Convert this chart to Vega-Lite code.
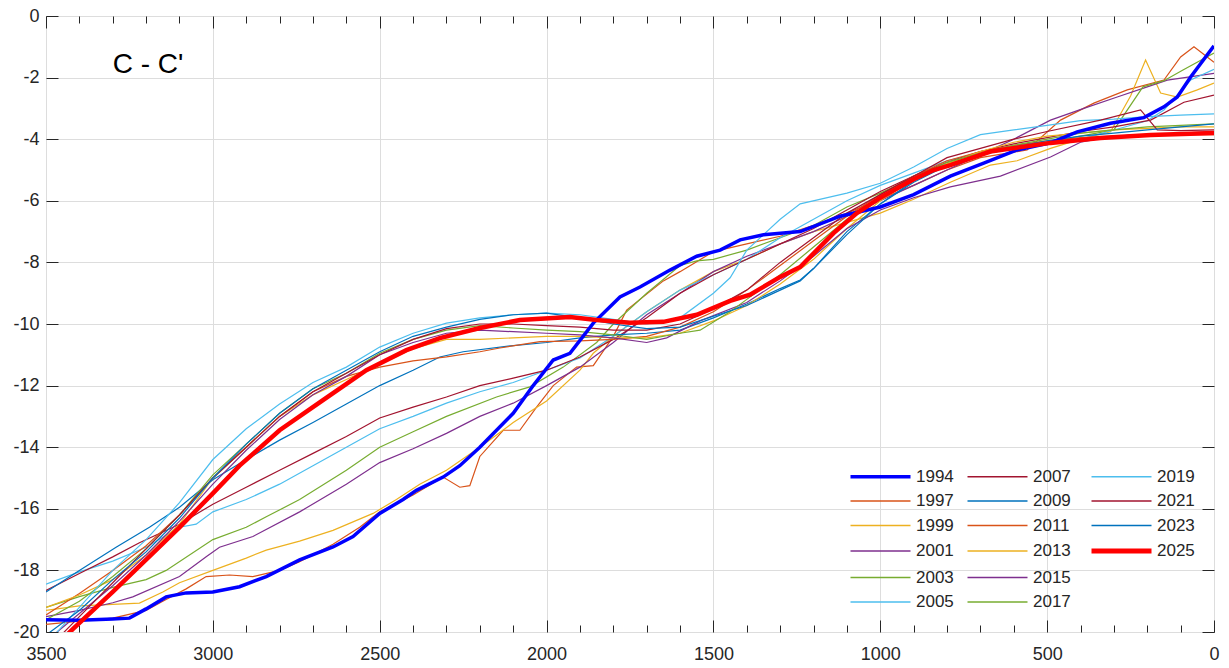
{
"$schema": "https://vega.github.io/schema/vega-lite/v6.json",
"width": 1168, "height": 616,
"autosize": {"type": "none"},
"padding": {"left": 46, "top": 16, "right": 15, "bottom": 36},
"background": "white",
"config": {
  "view": {"stroke": "#262626", "strokeWidth": 1},
  "axis": {"labelFont": "Liberation Sans", "labelFontSize": 18, "labelColor": "#262626", "tickColor": "#262626", "tickWidth": 1, "domain": false, "title": null}
},
"datasets": {
"lines": [
{"s":"1994","d":3500,"v":-19.6},{"s":"1994","d":3400,"v":-19.62},{"s":"1994","d":3300,"v":-19.58},{"s":"1994","d":3250,"v":-19.55},{"s":"1994","d":3200,"v":-19.25},{"s":"1994","d":3140,"v":-18.86},{"s":"1994","d":3080,"v":-18.73},{"s":"1994","d":3000,"v":-18.7},{"s":"1994","d":2920,"v":-18.53},{"s":"1994","d":2840,"v":-18.2},{"s":"1994","d":2740,"v":-17.66},{"s":"1994","d":2640,"v":-17.24},{"s":"1994","d":2580,"v":-16.9},{"s":"1994","d":2500,"v":-16.15},{"s":"1994","d":2430,"v":-15.7},{"s":"1994","d":2390,"v":-15.4},{"s":"1994","d":2310,"v":-14.97},{"s":"1994","d":2260,"v":-14.6},{"s":"1994","d":2200,"v":-14.0},{"s":"1994","d":2100,"v":-12.9},{"s":"1994","d":2040,"v":-12.0},{"s":"1994","d":1980,"v":-11.17},{"s":"1994","d":1930,"v":-10.95},{"s":"1994","d":1860,"v":-9.97},{"s":"1994","d":1780,"v":-9.12},{"s":"1994","d":1720,"v":-8.8},{"s":"1994","d":1630,"v":-8.25},{"s":"1994","d":1550,"v":-7.8},{"s":"1994","d":1480,"v":-7.6},{"s":"1994","d":1420,"v":-7.27},{"s":"1994","d":1350,"v":-7.1},{"s":"1994","d":1240,"v":-7.0},{"s":"1994","d":1120,"v":-6.5},{"s":"1994","d":1000,"v":-6.2},{"s":"1994","d":900,"v":-5.8},{"s":"1994","d":790,"v":-5.2},{"s":"1994","d":690,"v":-4.78},{"s":"1994","d":590,"v":-4.35},{"s":"1994","d":490,"v":-4.12},{"s":"1994","d":410,"v":-3.76},{"s":"1994","d":310,"v":-3.48},{"s":"1994","d":210,"v":-3.3},{"s":"1994","d":150,"v":-2.95},{"s":"1994","d":110,"v":-2.63},{"s":"1994","d":70,"v":-1.98},{"s":"1994","d":0,"v":-0.97},
{"s":"1997","d":3500,"v":-19.75},{"s":"1997","d":3400,"v":-19.65},{"s":"1997","d":3300,"v":-19.55},{"s":"1997","d":3200,"v":-19.3},{"s":"1997","d":3150,"v":-19.0},{"s":"1997","d":3080,"v":-18.6},{"s":"1997","d":3020,"v":-18.2},{"s":"1997","d":2950,"v":-18.15},{"s":"1997","d":2880,"v":-18.2},{"s":"1997","d":2800,"v":-18.0},{"s":"1997","d":2740,"v":-17.72},{"s":"1997","d":2640,"v":-17.15},{"s":"1997","d":2560,"v":-16.6},{"s":"1997","d":2500,"v":-16.1},{"s":"1997","d":2400,"v":-15.55},{"s":"1997","d":2310,"v":-14.97},{"s":"1997","d":2260,"v":-15.3},{"s":"1997","d":2230,"v":-15.25},{"s":"1997","d":2200,"v":-14.3},{"s":"1997","d":2130,"v":-13.45},{"s":"1997","d":2080,"v":-13.45},{"s":"1997","d":2030,"v":-12.7},{"s":"1997","d":1980,"v":-12.0},{"s":"1997","d":1910,"v":-11.4},{"s":"1997","d":1860,"v":-11.35},{"s":"1997","d":1800,"v":-10.4},{"s":"1997","d":1760,"v":-9.55},{"s":"1997","d":1720,"v":-9.2},{"s":"1997","d":1650,"v":-8.6},{"s":"1997","d":1600,"v":-8.3},{"s":"1997","d":1500,"v":-7.65},{"s":"1997","d":1400,"v":-7.4},{"s":"1997","d":1300,"v":-7.15},{"s":"1997","d":1200,"v":-6.8},{"s":"1997","d":1100,"v":-6.4},{"s":"1997","d":1000,"v":-5.95},{"s":"1997","d":900,"v":-5.5},{"s":"1997","d":800,"v":-5.0},{"s":"1997","d":700,"v":-4.6},{"s":"1997","d":560,"v":-4.35},{"s":"1997","d":460,"v":-3.38},{"s":"1997","d":360,"v":-2.83},{"s":"1997","d":260,"v":-2.4},{"s":"1997","d":150,"v":-2.08},{"s":"1997","d":100,"v":-1.33},{"s":"1997","d":60,"v":-1.0},{"s":"1997","d":0,"v":-1.5},
{"s":"1999","d":3500,"v":-19.3},{"s":"1999","d":3400,"v":-19.15},{"s":"1999","d":3300,"v":-19.1},{"s":"1999","d":3220,"v":-19.06},{"s":"1999","d":3150,"v":-18.7},{"s":"1999","d":3100,"v":-18.4},{"s":"1999","d":3000,"v":-18.0},{"s":"1999","d":2900,"v":-17.6},{"s":"1999","d":2840,"v":-17.34},{"s":"1999","d":2740,"v":-17.05},{"s":"1999","d":2640,"v":-16.7},{"s":"1999","d":2520,"v":-16.15},{"s":"1999","d":2450,"v":-15.7},{"s":"1999","d":2380,"v":-15.2},{"s":"1999","d":2300,"v":-14.75},{"s":"1999","d":2200,"v":-14.0},{"s":"1999","d":2100,"v":-13.2},{"s":"1999","d":2000,"v":-12.5},{"s":"1999","d":1900,"v":-11.5},{"s":"1999","d":1860,"v":-10.95},{"s":"1999","d":1800,"v":-10.4},{"s":"1999","d":1700,"v":-9.6},{"s":"1999","d":1600,"v":-8.9},{"s":"1999","d":1500,"v":-8.3},{"s":"1999","d":1400,"v":-7.9},{"s":"1999","d":1300,"v":-7.4},{"s":"1999","d":1200,"v":-7.0},{"s":"1999","d":1100,"v":-6.7},{"s":"1999","d":1000,"v":-6.4},{"s":"1999","d":900,"v":-5.95},{"s":"1999","d":790,"v":-5.4},{"s":"1999","d":670,"v":-4.84},{"s":"1999","d":590,"v":-4.7},{"s":"1999","d":490,"v":-4.3},{"s":"1999","d":400,"v":-4.0},{"s":"1999","d":310,"v":-3.76},{"s":"1999","d":250,"v":-2.6},{"s":"1999","d":205,"v":-1.43},{"s":"1999","d":160,"v":-2.5},{"s":"1999","d":110,"v":-2.63},{"s":"1999","d":50,"v":-2.4},{"s":"1999","d":0,"v":-2.18},
{"s":"2001","d":3500,"v":-19.5},{"s":"2001","d":3400,"v":-19.3},{"s":"2001","d":3300,"v":-19.05},{"s":"2001","d":3240,"v":-18.86},{"s":"2001","d":3100,"v":-18.2},{"s":"2001","d":3020,"v":-17.56},{"s":"2001","d":2980,"v":-17.25},{"s":"2001","d":2880,"v":-16.9},{"s":"2001","d":2740,"v":-16.1},{"s":"2001","d":2600,"v":-15.2},{"s":"2001","d":2500,"v":-14.5},{"s":"2001","d":2400,"v":-14.05},{"s":"2001","d":2300,"v":-13.55},{"s":"2001","d":2200,"v":-13.0},{"s":"2001","d":2100,"v":-12.57},{"s":"2001","d":2000,"v":-12.0},{"s":"2001","d":1900,"v":-11.4},{"s":"2001","d":1800,"v":-10.6},{"s":"2001","d":1700,"v":-9.7},{"s":"2001","d":1600,"v":-9.0},{"s":"2001","d":1500,"v":-8.3},{"s":"2001","d":1400,"v":-7.8},{"s":"2001","d":1300,"v":-7.4},{"s":"2001","d":1200,"v":-7.0},{"s":"2001","d":1100,"v":-6.5},{"s":"2001","d":1000,"v":-6.0},{"s":"2001","d":900,"v":-5.5},{"s":"2001","d":800,"v":-5.0},{"s":"2001","d":700,"v":-4.5},{"s":"2001","d":600,"v":-4.0},{"s":"2001","d":490,"v":-3.38},{"s":"2001","d":390,"v":-3.0},{"s":"2001","d":290,"v":-2.63},{"s":"2001","d":200,"v":-2.3},{"s":"2001","d":140,"v":-2.08},{"s":"2001","d":0,"v":-1.86},
{"s":"2003","d":3500,"v":-19.2},{"s":"2003","d":3400,"v":-18.85},{"s":"2003","d":3300,"v":-18.55},{"s":"2003","d":3200,"v":-18.3},{"s":"2003","d":3140,"v":-18.0},{"s":"2003","d":3000,"v":-17.0},{"s":"2003","d":2900,"v":-16.6},{"s":"2003","d":2840,"v":-16.26},{"s":"2003","d":2740,"v":-15.7},{"s":"2003","d":2600,"v":-14.75},{"s":"2003","d":2500,"v":-14.0},{"s":"2003","d":2400,"v":-13.5},{"s":"2003","d":2300,"v":-13.0},{"s":"2003","d":2150,"v":-12.37},{"s":"2003","d":2050,"v":-12.04},{"s":"2003","d":1950,"v":-11.4},{"s":"2003","d":1850,"v":-10.6},{"s":"2003","d":1800,"v":-10.0},{"s":"2003","d":1700,"v":-9.0},{"s":"2003","d":1600,"v":-8.1},{"s":"2003","d":1550,"v":-7.95},{"s":"2003","d":1500,"v":-7.9},{"s":"2003","d":1400,"v":-7.6},{"s":"2003","d":1300,"v":-7.2},{"s":"2003","d":1200,"v":-6.8},{"s":"2003","d":1100,"v":-6.2},{"s":"2003","d":1000,"v":-5.75},{"s":"2003","d":900,"v":-5.25},{"s":"2003","d":800,"v":-4.8},{"s":"2003","d":700,"v":-4.5},{"s":"2003","d":600,"v":-4.3},{"s":"2003","d":500,"v":-4.1},{"s":"2003","d":400,"v":-3.9},{"s":"2003","d":300,"v":-3.7},{"s":"2003","d":213,"v":-2.3},{"s":"2003","d":150,"v":-2.1},{"s":"2003","d":93,"v":-1.75},{"s":"2003","d":0,"v":-1.2},
{"s":"2005","d":3500,"v":-18.45},{"s":"2005","d":3400,"v":-18.05},{"s":"2005","d":3300,"v":-17.7},{"s":"2005","d":3200,"v":-17.25},{"s":"2005","d":3100,"v":-16.6},{"s":"2005","d":3050,"v":-16.5},{"s":"2005","d":3000,"v":-16.1},{"s":"2005","d":2900,"v":-15.7},{"s":"2005","d":2800,"v":-15.2},{"s":"2005","d":2700,"v":-14.6},{"s":"2005","d":2600,"v":-14.0},{"s":"2005","d":2500,"v":-13.4},{"s":"2005","d":2400,"v":-13.0},{"s":"2005","d":2300,"v":-12.57},{"s":"2005","d":2200,"v":-12.2},{"s":"2005","d":2100,"v":-11.9},{"s":"2005","d":2000,"v":-11.5},{"s":"2005","d":1900,"v":-11.1},{"s":"2005","d":1800,"v":-10.4},{"s":"2005","d":1700,"v":-9.6},{"s":"2005","d":1600,"v":-8.9},{"s":"2005","d":1500,"v":-8.4},{"s":"2005","d":1400,"v":-7.9},{"s":"2005","d":1300,"v":-7.2},{"s":"2005","d":1200,"v":-6.6},{"s":"2005","d":1100,"v":-6.0},{"s":"2005","d":1000,"v":-5.5},{"s":"2005","d":900,"v":-5.1},{"s":"2005","d":800,"v":-4.7},{"s":"2005","d":700,"v":-4.45},{"s":"2005","d":600,"v":-4.25},{"s":"2005","d":500,"v":-4.1},{"s":"2005","d":400,"v":-4.0},{"s":"2005","d":300,"v":-3.7},{"s":"2005","d":200,"v":-3.4},{"s":"2005","d":150,"v":-3.05},{"s":"2005","d":70,"v":-2.08},{"s":"2005","d":0,"v":-1.73},
{"s":"2007","d":3500,"v":-18.65},{"s":"2007","d":3400,"v":-18.1},{"s":"2007","d":3300,"v":-17.56},{"s":"2007","d":3220,"v":-17.1},{"s":"2007","d":3100,"v":-16.5},{"s":"2007","d":3000,"v":-15.85},{"s":"2007","d":2900,"v":-15.3},{"s":"2007","d":2800,"v":-14.75},{"s":"2007","d":2700,"v":-14.2},{"s":"2007","d":2600,"v":-13.65},{"s":"2007","d":2500,"v":-13.05},{"s":"2007","d":2400,"v":-12.7},{"s":"2007","d":2300,"v":-12.37},{"s":"2007","d":2200,"v":-12.0},{"s":"2007","d":2100,"v":-11.76},{"s":"2007","d":2000,"v":-11.5},{"s":"2007","d":1900,"v":-11.07},{"s":"2007","d":1800,"v":-10.5},{"s":"2007","d":1700,"v":-9.8},{"s":"2007","d":1600,"v":-9.0},{"s":"2007","d":1500,"v":-8.4},{"s":"2007","d":1400,"v":-7.9},{"s":"2007","d":1300,"v":-7.4},{"s":"2007","d":1200,"v":-6.9},{"s":"2007","d":1100,"v":-6.3},{"s":"2007","d":1000,"v":-5.7},{"s":"2007","d":900,"v":-5.2},{"s":"2007","d":800,"v":-4.75},{"s":"2007","d":700,"v":-4.4},{"s":"2007","d":600,"v":-4.15},{"s":"2007","d":500,"v":-3.95},{"s":"2007","d":400,"v":-3.75},{"s":"2007","d":300,"v":-3.6},{"s":"2007","d":190,"v":-3.38},{"s":"2007","d":90,"v":-2.8},{"s":"2007","d":0,"v":-2.57},
{"s":"2009","d":3500,"v":-18.7},{"s":"2009","d":3400,"v":-18.0},{"s":"2009","d":3290,"v":-17.25},{"s":"2009","d":3190,"v":-16.6},{"s":"2009","d":3100,"v":-15.95},{"s":"2009","d":3000,"v":-15.06},{"s":"2009","d":2900,"v":-14.4},{"s":"2009","d":2800,"v":-13.77},{"s":"2009","d":2700,"v":-13.2},{"s":"2009","d":2600,"v":-12.6},{"s":"2009","d":2500,"v":-12.0},{"s":"2009","d":2400,"v":-11.5},{"s":"2009","d":2320,"v":-11.07},{"s":"2009","d":2250,"v":-10.9},{"s":"2009","d":2100,"v":-10.7},{"s":"2009","d":2000,"v":-10.6},{"s":"2009","d":1900,"v":-10.45},{"s":"2009","d":1800,"v":-10.35},{"s":"2009","d":1700,"v":-10.3},{"s":"2009","d":1600,"v":-10.2},{"s":"2009","d":1500,"v":-9.8},{"s":"2009","d":1400,"v":-9.35},{"s":"2009","d":1300,"v":-8.85},{"s":"2009","d":1240,"v":-8.57},{"s":"2009","d":1200,"v":-8.2},{"s":"2009","d":1100,"v":-7.0},{"s":"2009","d":1000,"v":-6.1},{"s":"2009","d":900,"v":-5.35},{"s":"2009","d":800,"v":-4.85},{"s":"2009","d":700,"v":-4.5},{"s":"2009","d":600,"v":-4.3},{"s":"2009","d":500,"v":-4.1},{"s":"2009","d":400,"v":-4.0},{"s":"2009","d":300,"v":-3.9},{"s":"2009","d":200,"v":-3.85},{"s":"2009","d":100,"v":-3.8},{"s":"2009","d":0,"v":-3.75},
{"s":"2011","d":3500,"v":-19.45},{"s":"2011","d":3400,"v":-18.75},{"s":"2011","d":3300,"v":-18.0},{"s":"2011","d":3200,"v":-17.2},{"s":"2011","d":3100,"v":-16.2},{"s":"2011","d":3000,"v":-15.0},{"s":"2011","d":2900,"v":-14.0},{"s":"2011","d":2800,"v":-13.0},{"s":"2011","d":2700,"v":-12.2},{"s":"2011","d":2600,"v":-11.7},{"s":"2011","d":2500,"v":-11.4},{"s":"2011","d":2400,"v":-11.2},{"s":"2011","d":2300,"v":-11.07},{"s":"2011","d":2200,"v":-10.9},{"s":"2011","d":2140,"v":-10.78},{"s":"2011","d":2020,"v":-10.57},{"s":"2011","d":1900,"v":-10.55},{"s":"2011","d":1800,"v":-10.5},{"s":"2011","d":1700,"v":-10.4},{"s":"2011","d":1600,"v":-10.1},{"s":"2011","d":1500,"v":-9.6},{"s":"2011","d":1400,"v":-8.9},{"s":"2011","d":1300,"v":-8.1},{"s":"2011","d":1200,"v":-7.3},{"s":"2011","d":1100,"v":-6.5},{"s":"2011","d":1000,"v":-5.8},{"s":"2011","d":900,"v":-5.2},{"s":"2011","d":800,"v":-4.7},{"s":"2011","d":700,"v":-4.4},{"s":"2011","d":600,"v":-4.2},{"s":"2011","d":500,"v":-4.05},{"s":"2011","d":400,"v":-3.95},{"s":"2011","d":300,"v":-3.9},{"s":"2011","d":200,"v":-3.85},{"s":"2011","d":100,"v":-3.85},{"s":"2011","d":0,"v":-3.85},
{"s":"2013","d":3500,"v":-19.2},{"s":"2013","d":3400,"v":-18.8},{"s":"2013","d":3300,"v":-18.3},{"s":"2013","d":3200,"v":-17.5},{"s":"2013","d":3100,"v":-16.5},{"s":"2013","d":3000,"v":-15.0},{"s":"2013","d":2900,"v":-14.0},{"s":"2013","d":2800,"v":-13.0},{"s":"2013","d":2700,"v":-12.3},{"s":"2013","d":2600,"v":-11.8},{"s":"2013","d":2500,"v":-11.3},{"s":"2013","d":2400,"v":-10.8},{"s":"2013","d":2300,"v":-10.5},{"s":"2013","d":2200,"v":-10.5},{"s":"2013","d":2100,"v":-10.45},{"s":"2013","d":2000,"v":-10.4},{"s":"2013","d":1900,"v":-10.4},{"s":"2013","d":1800,"v":-10.45},{"s":"2013","d":1700,"v":-10.45},{"s":"2013","d":1600,"v":-10.3},{"s":"2013","d":1500,"v":-9.9},{"s":"2013","d":1400,"v":-9.4},{"s":"2013","d":1300,"v":-8.7},{"s":"2013","d":1200,"v":-7.9},{"s":"2013","d":1100,"v":-6.9},{"s":"2013","d":1000,"v":-6.0},{"s":"2013","d":900,"v":-5.3},{"s":"2013","d":800,"v":-4.8},{"s":"2013","d":700,"v":-4.4},{"s":"2013","d":600,"v":-4.1},{"s":"2013","d":500,"v":-3.9},{"s":"2013","d":400,"v":-3.8},{"s":"2013","d":300,"v":-3.7},{"s":"2013","d":200,"v":-3.65},{"s":"2013","d":100,"v":-3.6},{"s":"2013","d":0,"v":-3.6},
{"s":"2015","d":3500,"v":-20.3},{"s":"2015","d":3400,"v":-19.4},{"s":"2015","d":3300,"v":-18.5},{"s":"2015","d":3200,"v":-17.5},{"s":"2015","d":3100,"v":-16.4},{"s":"2015","d":3000,"v":-15.2},{"s":"2015","d":2900,"v":-14.1},{"s":"2015","d":2800,"v":-13.1},{"s":"2015","d":2700,"v":-12.3},{"s":"2015","d":2600,"v":-11.7},{"s":"2015","d":2500,"v":-11.0},{"s":"2015","d":2400,"v":-10.6},{"s":"2015","d":2300,"v":-10.3},{"s":"2015","d":2200,"v":-10.2},{"s":"2015","d":2100,"v":-10.25},{"s":"2015","d":2000,"v":-10.3},{"s":"2015","d":1900,"v":-10.35},{"s":"2015","d":1800,"v":-10.45},{"s":"2015","d":1700,"v":-10.6},{"s":"2015","d":1640,"v":-10.45},{"s":"2015","d":1540,"v":-9.9},{"s":"2015","d":1400,"v":-9.3},{"s":"2015","d":1300,"v":-8.6},{"s":"2015","d":1200,"v":-7.8},{"s":"2015","d":1100,"v":-6.9},{"s":"2015","d":1000,"v":-6.3},{"s":"2015","d":900,"v":-5.9},{"s":"2015","d":790,"v":-5.55},{"s":"2015","d":640,"v":-5.2},{"s":"2015","d":490,"v":-4.58},{"s":"2015","d":400,"v":-4.1},{"s":"2015","d":300,"v":-3.9},{"s":"2015","d":200,"v":-3.85},{"s":"2015","d":100,"v":-3.8},{"s":"2015","d":0,"v":-3.8},
{"s":"2017","d":3500,"v":-19.6},{"s":"2017","d":3400,"v":-19.0},{"s":"2017","d":3300,"v":-18.2},{"s":"2017","d":3200,"v":-17.3},{"s":"2017","d":3100,"v":-16.2},{"s":"2017","d":3000,"v":-14.9},{"s":"2017","d":2900,"v":-13.9},{"s":"2017","d":2800,"v":-12.9},{"s":"2017","d":2700,"v":-12.1},{"s":"2017","d":2600,"v":-11.6},{"s":"2017","d":2500,"v":-10.95},{"s":"2017","d":2400,"v":-10.5},{"s":"2017","d":2300,"v":-10.2},{"s":"2017","d":2200,"v":-10.05},{"s":"2017","d":2100,"v":-10.13},{"s":"2017","d":2000,"v":-10.2},{"s":"2017","d":1900,"v":-10.25},{"s":"2017","d":1800,"v":-10.35},{"s":"2017","d":1700,"v":-10.5},{"s":"2017","d":1600,"v":-10.3},{"s":"2017","d":1540,"v":-10.2},{"s":"2017","d":1450,"v":-9.6},{"s":"2017","d":1400,"v":-9.2},{"s":"2017","d":1300,"v":-8.4},{"s":"2017","d":1200,"v":-7.5},{"s":"2017","d":1100,"v":-6.6},{"s":"2017","d":1000,"v":-5.9},{"s":"2017","d":900,"v":-5.25},{"s":"2017","d":800,"v":-4.75},{"s":"2017","d":700,"v":-4.45},{"s":"2017","d":600,"v":-4.2},{"s":"2017","d":500,"v":-4.0},{"s":"2017","d":400,"v":-3.8},{"s":"2017","d":300,"v":-3.7},{"s":"2017","d":200,"v":-3.6},{"s":"2017","d":100,"v":-3.55},{"s":"2017","d":0,"v":-3.5},
{"s":"2019","d":3500,"v":-20.4},{"s":"2019","d":3400,"v":-19.2},{"s":"2019","d":3300,"v":-18.0},{"s":"2019","d":3200,"v":-17.0},{"s":"2019","d":3100,"v":-15.8},{"s":"2019","d":3000,"v":-14.4},{"s":"2019","d":2900,"v":-13.4},{"s":"2019","d":2800,"v":-12.6},{"s":"2019","d":2700,"v":-11.9},{"s":"2019","d":2600,"v":-11.4},{"s":"2019","d":2500,"v":-10.75},{"s":"2019","d":2400,"v":-10.3},{"s":"2019","d":2300,"v":-9.97},{"s":"2019","d":2200,"v":-9.8},{"s":"2019","d":2100,"v":-9.7},{"s":"2019","d":2000,"v":-9.65},{"s":"2019","d":1900,"v":-9.7},{"s":"2019","d":1800,"v":-9.85},{"s":"2019","d":1700,"v":-10.0},{"s":"2019","d":1600,"v":-9.8},{"s":"2019","d":1500,"v":-9.0},{"s":"2019","d":1450,"v":-8.5},{"s":"2019","d":1400,"v":-7.6},{"s":"2019","d":1300,"v":-6.6},{"s":"2019","d":1240,"v":-6.1},{"s":"2019","d":1100,"v":-5.75},{"s":"2019","d":1000,"v":-5.43},{"s":"2019","d":900,"v":-4.9},{"s":"2019","d":800,"v":-4.3},{"s":"2019","d":700,"v":-3.85},{"s":"2019","d":600,"v":-3.7},{"s":"2019","d":500,"v":-3.55},{"s":"2019","d":400,"v":-3.4},{"s":"2019","d":300,"v":-3.35},{"s":"2019","d":200,"v":-3.27},{"s":"2019","d":100,"v":-3.22},{"s":"2019","d":0,"v":-3.18},
{"s":"2021","d":3500,"v":-20.6},{"s":"2021","d":3400,"v":-19.5},{"s":"2021","d":3300,"v":-18.4},{"s":"2021","d":3200,"v":-17.3},{"s":"2021","d":3100,"v":-16.2},{"s":"2021","d":3000,"v":-15.0},{"s":"2021","d":2900,"v":-14.0},{"s":"2021","d":2800,"v":-13.0},{"s":"2021","d":2700,"v":-12.2},{"s":"2021","d":2600,"v":-11.6},{"s":"2021","d":2500,"v":-11.0},{"s":"2021","d":2400,"v":-10.5},{"s":"2021","d":2300,"v":-10.15},{"s":"2021","d":2200,"v":-10.0},{"s":"2021","d":2100,"v":-10.0},{"s":"2021","d":2000,"v":-10.05},{"s":"2021","d":1900,"v":-10.1},{"s":"2021","d":1800,"v":-10.2},{"s":"2021","d":1700,"v":-10.2},{"s":"2021","d":1600,"v":-10.0},{"s":"2021","d":1500,"v":-9.5},{"s":"2021","d":1400,"v":-8.9},{"s":"2021","d":1300,"v":-8.0},{"s":"2021","d":1200,"v":-7.2},{"s":"2021","d":1100,"v":-6.4},{"s":"2021","d":1000,"v":-5.8},{"s":"2021","d":900,"v":-5.2},{"s":"2021","d":800,"v":-4.6},{"s":"2021","d":700,"v":-4.3},{"s":"2021","d":600,"v":-4.0},{"s":"2021","d":500,"v":-3.75},{"s":"2021","d":340,"v":-3.38},{"s":"2021","d":220,"v":-3.05},{"s":"2021","d":170,"v":-3.7},{"s":"2021","d":100,"v":-3.72},{"s":"2021","d":0,"v":-3.7},
{"s":"2023","d":3500,"v":-20.1},{"s":"2023","d":3400,"v":-19.3},{"s":"2023","d":3300,"v":-18.3},{"s":"2023","d":3200,"v":-17.4},{"s":"2023","d":3100,"v":-16.3},{"s":"2023","d":3000,"v":-15.0},{"s":"2023","d":2900,"v":-13.9},{"s":"2023","d":2800,"v":-12.9},{"s":"2023","d":2700,"v":-12.1},{"s":"2023","d":2600,"v":-11.5},{"s":"2023","d":2500,"v":-10.9},{"s":"2023","d":2400,"v":-10.4},{"s":"2023","d":2300,"v":-10.1},{"s":"2023","d":2200,"v":-9.85},{"s":"2023","d":2100,"v":-9.7},{"s":"2023","d":2000,"v":-9.65},{"s":"2023","d":1900,"v":-9.8},{"s":"2023","d":1800,"v":-10.0},{"s":"2023","d":1700,"v":-10.15},{"s":"2023","d":1600,"v":-10.1},{"s":"2023","d":1500,"v":-9.75},{"s":"2023","d":1400,"v":-9.4},{"s":"2023","d":1300,"v":-8.9},{"s":"2023","d":1240,"v":-8.6},{"s":"2023","d":1200,"v":-8.2},{"s":"2023","d":1100,"v":-7.1},{"s":"2023","d":1000,"v":-6.1},{"s":"2023","d":900,"v":-5.4},{"s":"2023","d":800,"v":-4.85},{"s":"2023","d":700,"v":-4.5},{"s":"2023","d":600,"v":-4.25},{"s":"2023","d":500,"v":-4.05},{"s":"2023","d":400,"v":-3.9},{"s":"2023","d":300,"v":-3.8},{"s":"2023","d":200,"v":-3.7},{"s":"2023","d":100,"v":-3.6},{"s":"2023","d":0,"v":-3.5},
{"s":"2025","d":3500,"v":-20.75},{"s":"2025","d":3419,"v":-19.9},{"s":"2025","d":3300,"v":-18.7},{"s":"2025","d":3200,"v":-17.65},{"s":"2025","d":3100,"v":-16.6},{"s":"2025","d":3000,"v":-15.5},{"s":"2025","d":2920,"v":-14.6},{"s":"2025","d":2800,"v":-13.45},{"s":"2025","d":2670,"v":-12.47},{"s":"2025","d":2540,"v":-11.5},{"s":"2025","d":2420,"v":-10.85},{"s":"2025","d":2320,"v":-10.46},{"s":"2025","d":2200,"v":-10.13},{"s":"2025","d":2080,"v":-9.87},{"s":"2025","d":1930,"v":-9.77},{"s":"2025","d":1850,"v":-9.87},{"s":"2025","d":1750,"v":-9.96},{"s":"2025","d":1650,"v":-9.93},{"s":"2025","d":1550,"v":-9.7},{"s":"2025","d":1450,"v":-9.25},{"s":"2025","d":1390,"v":-9.05},{"s":"2025","d":1300,"v":-8.47},{"s":"2025","d":1240,"v":-8.15},{"s":"2025","d":1140,"v":-7.05},{"s":"2025","d":1070,"v":-6.4},{"s":"2025","d":1000,"v":-5.9},{"s":"2025","d":900,"v":-5.3},{"s":"2025","d":840,"v":-5.0},{"s":"2025","d":790,"v":-4.84},{"s":"2025","d":670,"v":-4.4},{"s":"2025","d":490,"v":-4.12},{"s":"2025","d":340,"v":-3.96},{"s":"2025","d":190,"v":-3.86},{"s":"2025","d":0,"v":-3.8}
],
"label": [{"text": "C - C'", "d": 3300, "v": -1.86}]
},
"layer": [
  {
    "data": {"name": "lines"},
    "transform": [{"filter": "datum.s !== '1994' && datum.s !== '2025'"}],
    "mark": {"type": "line", "strokeWidth": 1.2, "clip": true},
    "encoding": {
      "x": {"field": "d", "type": "quantitative", "scale": {"domain": [0, 3500], "reverse": true, "nice": false, "zero": false},
        "axis": {"orient": "bottom", "values": [0,100,200,300,400,500,600,700,800,900,1000,1100,1200,1300,1400,1500,1600,1700,1800,1900,2000,2100,2200,2300,2400,2500,2600,2700,2800,2900,3000,3100,3200,3300,3400,3500],
          "labelExpr": "datum.value % 500 === 0 ? '' + datum.value : ''",
          "grid": true, "gridColor": "#dddddd",
          "gridOpacity": {"condition": {"test": "datum.value % 500 === 0", "value": 1}, "value": 0},
          "tickSize": {"condition": {"test": "datum.value % 500 === 0", "value": -12}, "value": -7},
          "labelPadding": 25, "labelFlush": false}},
      "y": {"field": "v", "type": "quantitative", "scale": {"domain": [-20, 0], "nice": false, "zero": false},
        "axis": {"orient": "left", "values": [-20,-18,-16,-14,-12,-10,-8,-6,-4,-2,0], "labelExpr": "'' + datum.value", "grid": true, "gridColor": "#dddddd", "tickSize": -12, "labelPadding": 19}},
      "detail": {"field": "s", "type": "nominal"},
      "color": {"field": "s", "type": "nominal",
        "scale": {"domain": ["1994","1997","1999","2001","2003","2005","2007","2009","2011","2013","2015","2017","2019","2021","2023","2025"," "],
                  "range": ["#0000FF","#D95319","#EDB120","#7E2F8E","#77AC30","#4DBEEE","#A2142F","#0072BD","#D95319","#EDB120","#7E2F8E","#77AC30","#4DBEEE","#A2142F","#0072BD","#FF0000","rgba(0,0,0,0)"]},
        "legend": {"orient": "none", "legendX": 826, "legendY": 452, "columns": 3, "title": null,
          "symbolType": "stroke", "symbolSize": 3600, "symbolStrokeWidth": 1.5,
          "labelFont": "Liberation Sans", "labelFontSize": 17, "labelColor": "#262626", "labelOffset": 27,
          "rowPadding": 6.5, "columnPadding": 10, "padding": 0,
          "encode": {"symbols": {"update": {"strokeWidth": {"signal": "datum.value === '1994' ? 3.5 : datum.value === '2025' ? 5 : 1.5"}}}}}}
    }
  },
  {
    "data": {"name": "lines"},
    "transform": [{"filter": "datum.s === '1994'"}],
    "mark": {"type": "line", "strokeWidth": 3.5, "clip": true},
    "encoding": {
      "x": {"field": "d", "type": "quantitative", "axis": null},
      "y": {"field": "v", "type": "quantitative", "axis": null},
      "color": {"field": "s", "type": "nominal"}
    }
  },
  {
    "data": {"name": "lines"},
    "transform": [{"filter": "datum.s === '2025'"}],
    "mark": {"type": "line", "strokeWidth": 4.5, "clip": true},
    "encoding": {
      "x": {"field": "d", "type": "quantitative", "axis": null},
      "y": {"field": "v", "type": "quantitative", "axis": null},
      "color": {"field": "s", "type": "nominal"}
    }
  },
  {
    "data": {"name": "label"},
    "mark": {"type": "text", "align": "left", "baseline": "alphabetic", "font": "Liberation Sans", "fontSize": 28, "color": "#000000"},
    "encoding": {
      "x": {"field": "d", "type": "quantitative",
        "axis": {"orient": "top", "values": [0,100,200,300,400,500,600,700,800,900,1000,1100,1200,1300,1400,1500,1600,1700,1800,1900,2000,2100,2200,2300,2400,2500,2600,2700,2800,2900,3000,3100,3200,3300,3400,3500],
          "labels": false, "grid": false,
          "tickSize": {"condition": {"test": "datum.value % 500 === 0", "value": -12}, "value": -7}}},
      "y": {"field": "v", "type": "quantitative",
        "axis": {"orient": "right", "values": [-20,-18,-16,-14,-12,-10,-8,-6,-4,-2,0], "labels": false, "grid": false, "tickSize": -12}},
      "text": {"field": "text"}
    }
  }
],
"resolve": {"axis": {"x": "independent", "y": "independent"}}
}
